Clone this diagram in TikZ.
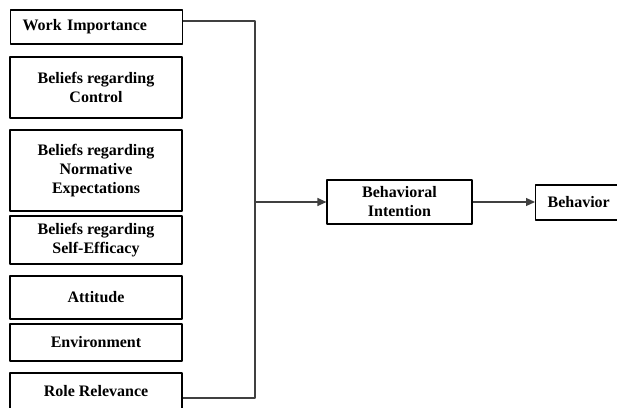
\documentclass[tikz,border=0pt]{standalone}
\usepackage{fontspec}
\setmainfont{Liberation Serif}
\usetikzlibrary{arrows.meta}
\begin{document}
\begin{tikzpicture}[x=1pt,y=-1pt,>={Triangle[length=9pt,width=8pt]},line join=round,
    box/.style={draw,line width=1.2pt,minimum width=172pt,align=center,inner sep=0pt,
      font=\fontsize{16}{19}\selectfont\bfseries},
    leftbox/.style={box,anchor=west,align=left,minimum width=0pt,inner xsep=12pt},
    link/.style={draw=black!75,line width=1.2pt}]
  \useasboundingbox (0,0) rectangle (617,407);
  \clip (0,0) rectangle (617,407);
  % factors on the left
  \node[leftbox,text width=148pt,minimum height=34pt] (work) at (10,27) {Work Importance};
  \node[box,minimum height=61pt] (control) at (96,87.5) {Beliefs regarding\\Control};
  \node[box,minimum height=81pt] (norm) at (96,170.5) {Beliefs regarding\\Normative\\Expectations};
  \node[box,minimum height=48pt] (efficacy) at (96,240) {Beliefs regarding\\Self-Efficacy};
  \node[box,minimum height=43pt] (attitude) at (96,297.5) {Attitude};
  \node[box,minimum height=37pt] (environ) at (96,342.5) {Environment};
  \node[box,minimum height=36pt] (role) at (96,391) {Role Relevance};
  % intention and behavior
  \node[box,minimum width=145pt,minimum height=44pt] (intent) at (399.5,202) {Behavioral\\Intention};
  \node[leftbox,text width=130pt,minimum height=35pt] (behav) at (535,202.5) {Behavior};
  \coordinate (hub) at (255,202);
  \draw[link] ([yshift=6pt]work.east) -| (hub) |- ([yshift=-7pt]role.east);
  \draw[link,->] (hub) -- (intent.west);
  \draw[link,->] (intent.east) -- (behav.west |- intent.east);
\end{tikzpicture}
\end{document}
